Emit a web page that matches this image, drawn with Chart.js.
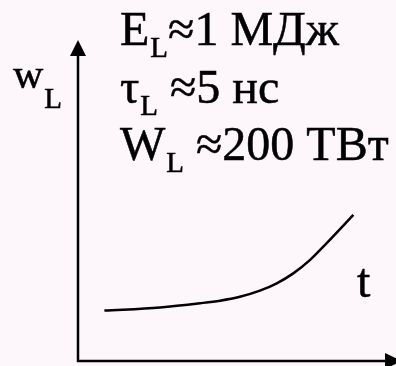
<!DOCTYPE html>
<html>
<head>
<meta charset="utf-8">
<script src="https://cdn.jsdelivr.net/npm/chart.js@4"></script>
<style>
    html, body {
        margin: 0;
        padding: 0;
        background: #fdf6fb;
    }
    #wrap {
        width: 396px;
        height: 366px;
    }
    .probe {
        position: absolute;
        left: -1000px;
        font-family: "Liberation Serif";
        font-size: 46px;
    }
</style>
</head>
<body>
<span class="probe">EτW МДж</span>
<div id="wrap"><canvas id="pulseChart" width="396" height="366"></canvas></div>
<script>
// Laserimpuls: Leistung w_L über der Zeit t (willkürliche Einheiten)
const timeValues = [0.83, 2.58, 3.84, 4.47, 5.09, 5.72, 6.25, 6.77, 7.30, 7.82, 8.66];
const powerValues = [1.57, 1.67, 1.80, 1.88, 2.00, 2.19, 2.42, 2.73, 3.15, 3.67, 4.55];

const paramLines = [
    {main: 'E', sub: 'L', rest: '≈1 МДж'},
    {main: 'τ', sub: 'L', rest: ' ≈5 нс'},
    {main: 'W', sub: 'L', rest: ' ≈200 ТВт'}
];
const yTitle = {main: 'w', sub: 'L'};
const xTitle = 't';

const FONT = '"Liberation Serif"';

// Text mit tiefgestelltem Index, leicht nachgezogen damit er kräftiger wirkt
function drawSubscripted(ctx, item, x, y, size, subSize, subShift) {
    const put = (txt, px, py) => {
        ctx.fillText(txt, px, py);
        ctx.strokeText(txt, px, py);
    };
    ctx.font = `${size}px ${FONT}`;
    put(item.main, x, y);
    x += ctx.measureText(item.main).width + 1;
    ctx.font = `${subSize}px ${FONT}`;
    put(item.sub, x, y + subShift);
    x += ctx.measureText(item.sub).width;
    if (item.rest) {
        ctx.font = `${size}px ${FONT}`;
        put(item.rest, x, y);
    }
}

// Hintergrund, Achsen mit Pfeilen und Beschriftung
const axesPlugin = {
    id: 'axesPlugin',
    beforeDraw(chart) {
        const ctx = chart.ctx;
        ctx.save();
        ctx.fillStyle = '#fdf6fb';
        ctx.fillRect(0, 0, chart.width, chart.height);
        ctx.restore();
    },
    afterDraw(chart) {
        const ctx = chart.ctx;
        const a = chart.chartArea;
        ctx.save();
        ctx.strokeStyle = '#000';
        ctx.fillStyle = '#000';
        ctx.lineWidth = 2.5;

        // y-Achse
        ctx.beginPath();
        ctx.moveTo(a.left, a.bottom + 1);
        ctx.lineTo(a.left, a.top + 12);
        ctx.stroke();
        ctx.beginPath();
        ctx.moveTo(a.left, a.top);
        ctx.lineTo(a.left - 8, a.top + 16);
        ctx.lineTo(a.left + 8, a.top + 16);
        ctx.closePath();
        ctx.fill();

        // x-Achse
        ctx.beginPath();
        ctx.moveTo(a.left - 1, a.bottom);
        ctx.lineTo(a.right - 8, a.bottom);
        ctx.stroke();
        ctx.beginPath();
        ctx.moveTo(a.right + 6, a.bottom);
        ctx.lineTo(a.right - 11, a.bottom - 8);
        ctx.lineTo(a.right - 11, a.bottom + 8);
        ctx.closePath();
        ctx.fill();

        ctx.textBaseline = 'alphabetic';
        ctx.textAlign = 'left';
        ctx.lineWidth = 0.5;

        const baselines = [45, 103, 160];
        paramLines.forEach((line, i) => {
            drawSubscripted(ctx, line, 120, baselines[i], 48, 29, 12);
        });

        drawSubscripted(ctx, yTitle, 13, 88, 42, 29, 20);

        ctx.font = `48px ${FONT}`;
        ctx.fillText(xTitle, 357, 297);
        ctx.strokeText(xTitle, 357, 297);
        ctx.restore();
    }
};

function drawChart() {
    const ctx = document.getElementById('pulseChart').getContext('2d');
    new Chart(ctx, {
        type: 'line',
        data: {
            datasets: [{
                data: timeValues.map((t, i) => ({x: t, y: powerValues[i]})),
                borderColor: '#000',
                borderWidth: 2.5,
                pointRadius: 0,
                fill: false,
                cubicInterpolationMode: 'monotone'
            }]
        },
        options: {
            responsive: false,
            animation: false,
            layout: {
                padding: {left: 78, right: 0, top: 40, bottom: 5}
            },
            scales: {
                x: {type: 'linear', min: 0, max: 10, display: false},
                y: {type: 'linear', min: 0, max: 10, display: false}
            },
            plugins: {
                legend: {display: false},
                tooltip: {enabled: false}
            }
        },
        plugins: [axesPlugin]
    });
}

document.fonts.load('46px "Liberation Serif"').then(drawChart, drawChart);
</script>
</body>
</html>
